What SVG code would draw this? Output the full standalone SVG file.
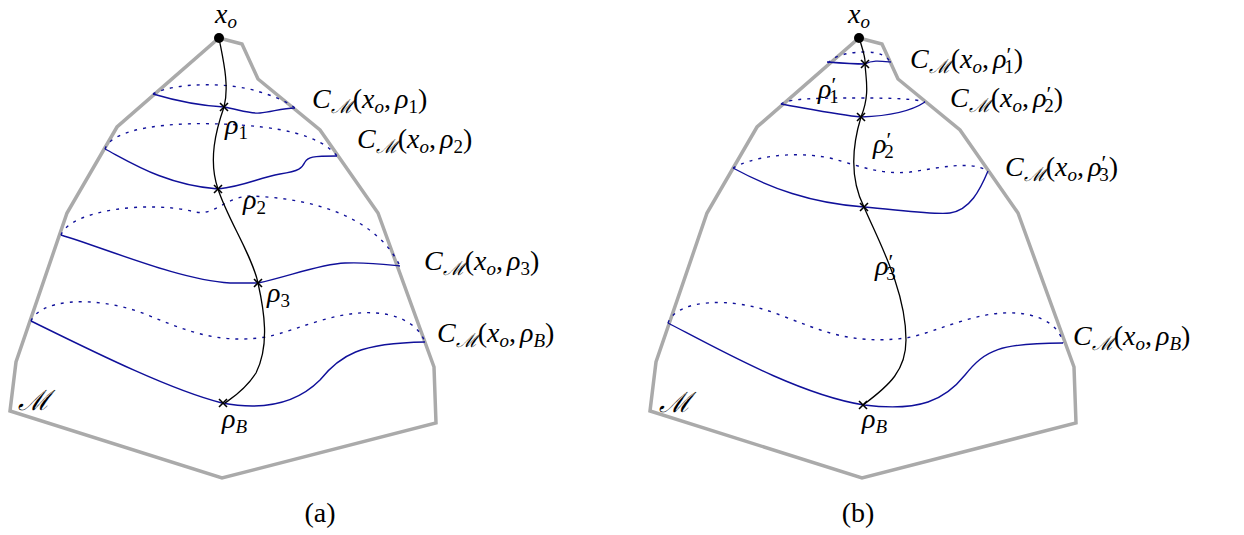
<svg xmlns="http://www.w3.org/2000/svg" width="1244" height="535" viewBox="0 0 1244 535">
<style>
.border{fill:none;stroke:#aaaaaa;stroke-width:3.5;stroke-linejoin:miter}
.lvl{fill:none;stroke:#10109a;stroke-width:1.4}
.dot{fill:none;stroke:#10109a;stroke-width:1.4;stroke-dasharray:3 6}
.geo{fill:none;stroke:#000;stroke-width:1.3}
.x{stroke:#000;stroke-width:1.6}
text{font-family:"Liberation Serif","DejaVu Serif",serif;font-size:28px;fill:#000}
.it{font-style:italic}
.sub{font-size:19px}
.pr{font-size:22px}
.cal{font-family:"DejaVu Serif","Liberation Serif",serif;font-style:italic}
</style>
<defs>
<path id="cross" d="M-4,-4L4,4M-4,4L4,-4" class="x"/>
<polygon id="manifold" class="border" points="219,38 242,44 258,79 320,130 378,213 434,367 436,423 222,478 10,411 16,362 67,213 117,127"/>
</defs>

<g id="panel-a">
<use href="#manifold"/>
<g id="levels-a">
<path class="dot" d="M153,94 C175,82 230,82 260,92 C280,98 290,104 295,108"/>
<path class="lvl" d="M153,94 C180,102 205,106 224,107 C240,110 250,114 260,113 C272,112 282,108 295,108"/>
<path class="dot" d="M105,149 C112,128 170,122 220,124 C280,126 320,135 337,156"/>
<path class="lvl" d="M105,149 C130,162 165,185 218,189 C245,186 258,178 280,174 C300,171 302,168 305,162 C308,157 312,156 337,156"/>
<path class="dot" d="M61,235 C70,210 150,200 195,212 C215,216 225,197 250,196 C310,198 375,215 400,266"/>
<path class="lvl" d="M61,235 C110,250 180,280 230,283 L258,283 C290,276 320,264 345,263 C370,262 390,265 400,266"/>
<path class="dot" d="M31,321 C40,300 90,295 140,312 C180,328 215,345 266,337 C300,330 345,305 390,315 C410,320 420,330 425,342"/>
<path class="lvl" d="M31,321 C90,350 170,390 222,403 C270,412 300,400 320,380 C340,355 360,343 425,342"/>
</g>
<g id="geodesic-a">
<path class="geo" d="M219,38 C222,55 230,85 224,107 C216,130 208,160 218,189 C228,220 252,255 258,283 C264,310 270,345 256,373 C245,390 232,398 225,403"/>
<use href="#cross" x="224" y="107"/>
<use href="#cross" x="218" y="189"/>
<use href="#cross" x="258" y="283"/>
<use href="#cross" x="223" y="403"/>
<circle cx="219" cy="38" r="5" fill="#000"/>
</g>
<g id="labels-a">
<text x="215" y="23" font-size="26"><tspan class="it">x</tspan><tspan class="sub it" dy="5">o</tspan></text>
<text x="225" y="134"><tspan class="it">ρ</tspan><tspan class="sub" dy="5">1</tspan></text>
<text x="243" y="209"><tspan class="it">ρ</tspan><tspan class="sub" dy="5">2</tspan></text>
<text x="267" y="302"><tspan class="it">ρ</tspan><tspan class="sub" dy="5">3</tspan></text>
<text x="222" y="428"><tspan class="it">ρ</tspan><tspan class="sub it" dy="5">B</tspan></text>
<text x="312" y="108"><tspan class="it">C</tspan><tspan class="sub cal" dy="5">ℳ</tspan><tspan dy="-5">(</tspan><tspan class="it">x</tspan><tspan class="sub it" dy="5">o</tspan><tspan dy="-5">,</tspan><tspan class="it" dx="4">ρ</tspan><tspan class="sub" dy="5">1</tspan><tspan dy="-5">)</tspan></text>
<text x="357" y="148"><tspan class="it">C</tspan><tspan class="sub cal" dy="5">ℳ</tspan><tspan dy="-5">(</tspan><tspan class="it">x</tspan><tspan class="sub it" dy="5">o</tspan><tspan dy="-5">,</tspan><tspan class="it" dx="4">ρ</tspan><tspan class="sub" dy="5">2</tspan><tspan dy="-5">)</tspan></text>
<text x="424" y="270"><tspan class="it">C</tspan><tspan class="sub cal" dy="5">ℳ</tspan><tspan dy="-5">(</tspan><tspan class="it">x</tspan><tspan class="sub it" dy="5">o</tspan><tspan dy="-5">,</tspan><tspan class="it" dx="4">ρ</tspan><tspan class="sub" dy="5">3</tspan><tspan dy="-5">)</tspan></text>
<text x="437" y="342"><tspan class="it">C</tspan><tspan class="sub cal" dy="5">ℳ</tspan><tspan dy="-5">(</tspan><tspan class="it">x</tspan><tspan class="sub it" dy="5">o</tspan><tspan dy="-5">,</tspan><tspan class="it" dx="4">ρ</tspan><tspan class="sub it" dy="5">B</tspan><tspan dy="-5">)</tspan></text>
<text x="18" y="410" class="cal" font-size="38">ℳ</text>
<text x="320" y="522" text-anchor="middle" font-size="25">(a)</text>
</g>
</g>

<g id="panel-b">
<use href="#manifold" x="640"/>
<g id="levels-b">
<path class="dot" d="M828,63 C835,55 850,52 865,52 C880,52 887,56 890,62"/>
<path class="lvl" d="M827,62 C840,63 855,64 865,64 C872,60 880,61 891,62"/>
<path class="dot" d="M781,104 C790,98 820,98 860,98 C895,98 915,99 925,102"/>
<path class="lvl" d="M781,104 C810,109 840,115 861,117 C890,116 910,112 925,102"/>
<path class="dot" d="M733,168 C750,158 790,150 830,158 C860,166 880,175 910,172 C940,168 970,160 988,171"/>
<path class="lvl" d="M733,168 C770,188 810,203 864,207 C900,210 935,215 950,213 C970,210 980,190 988,171"/>
<path class="dot" d="M668,323 C676,300 730,295 780,315 C820,330 850,345 906,338 C940,332 985,305 1030,315 C1050,320 1060,330 1063,343"/>
<path class="lvl" d="M668,323 C720,350 800,395 864,405 C920,412 945,400 965,375 C985,350 1000,343 1063,343"/>
</g>
<g id="geodesic-b">
<path class="geo" d="M859,37 C862,48 866,58 865,64 C866,80 870,95 861,117 C854,140 848,175 864,207 C878,240 906,290 906,340 C906,370 890,385 863,405"/>
<use href="#cross" x="865" y="64"/>
<use href="#cross" x="861" y="117"/>
<use href="#cross" x="864" y="207"/>
<use href="#cross" x="863" y="405"/>
<circle cx="859" cy="38" r="5" fill="#000"/>
</g>
<g id="labels-b">
<text x="848" y="23" font-size="26"><tspan class="it">x</tspan><tspan class="sub it" dy="5">o</tspan></text>
<text x="818" y="98"><tspan class="it">ρ</tspan><tspan class="pr" dy="-6">′</tspan><tspan class="sub" dx="-7" dy="11">1</tspan></text>
<text x="873" y="153"><tspan class="it">ρ</tspan><tspan class="pr" dy="-6">′</tspan><tspan class="sub" dx="-7" dy="11">2</tspan></text>
<text x="875" y="275"><tspan class="it">ρ</tspan><tspan class="pr" dy="-6">′</tspan><tspan class="sub" dx="-7" dy="11">3</tspan></text>
<text x="862" y="428"><tspan class="it">ρ</tspan><tspan class="sub it" dy="5">B</tspan></text>
<text x="910" y="68"><tspan class="it">C</tspan><tspan class="sub cal" dy="5">ℳ</tspan><tspan dy="-5">(</tspan><tspan class="it">x</tspan><tspan class="sub it" dy="5">o</tspan><tspan dy="-5">,</tspan><tspan class="it" dx="4">ρ</tspan><tspan class="pr" dy="-6">′</tspan><tspan class="sub" dx="-7" dy="11">1</tspan><tspan dy="-5">)</tspan></text>
<text x="950" y="107"><tspan class="it">C</tspan><tspan class="sub cal" dy="5">ℳ</tspan><tspan dy="-5">(</tspan><tspan class="it">x</tspan><tspan class="sub it" dy="5">o</tspan><tspan dy="-5">,</tspan><tspan class="it" dx="4">ρ</tspan><tspan class="pr" dy="-6">′</tspan><tspan class="sub" dx="-7" dy="11">2</tspan><tspan dy="-5">)</tspan></text>
<text x="1005" y="176"><tspan class="it">C</tspan><tspan class="sub cal" dy="5">ℳ</tspan><tspan dy="-5">(</tspan><tspan class="it">x</tspan><tspan class="sub it" dy="5">o</tspan><tspan dy="-5">,</tspan><tspan class="it" dx="4">ρ</tspan><tspan class="pr" dy="-6">′</tspan><tspan class="sub" dx="-7" dy="11">3</tspan><tspan dy="-5">)</tspan></text>
<text x="1073" y="345"><tspan class="it">C</tspan><tspan class="sub cal" dy="5">ℳ</tspan><tspan dy="-5">(</tspan><tspan class="it">x</tspan><tspan class="sub it" dy="5">o</tspan><tspan dy="-5">,</tspan><tspan class="it" dx="4">ρ</tspan><tspan class="sub it" dy="5">B</tspan><tspan dy="-5">)</tspan></text>
<text x="659" y="412" class="cal" font-size="38">ℳ</text>
<text x="858" y="522" text-anchor="middle" font-size="25">(b)</text>
</g>
</g>
</svg>
